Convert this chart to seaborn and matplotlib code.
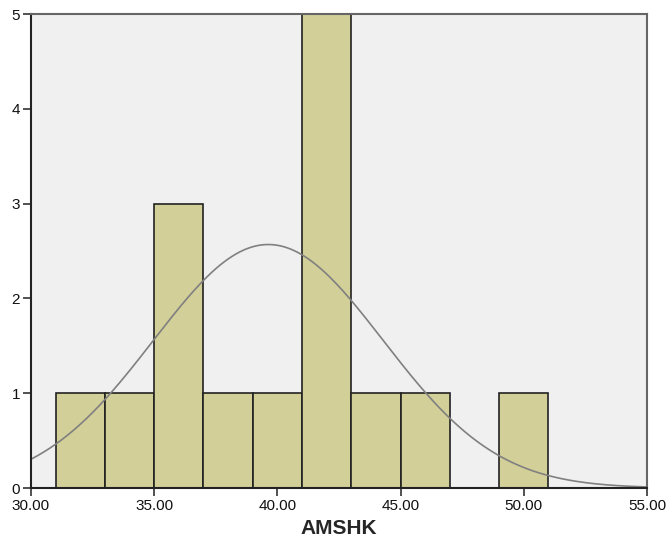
import numpy as np
import pandas as pd
import matplotlib
matplotlib.use("Agg")
import matplotlib.pyplot as plt
import seaborn as sns

# Data
bin_edges = [31, 33, 35, 37, 39, 41, 43, 45, 47, 49, 51]
bin_counts = [1, 1, 3, 1, 1, 5, 1, 1, 0, 1]
fit_mean = 39.63
fit_sd = 4.66
n_total = sum(bin_counts)
bin_width = 2
x_ticks = [30, 35, 40, 45, 50, 55]
x_tick_labels = ["30.00", "35.00", "40.00", "45.00", "50.00", "55.00"]
y_ticks = [0, 1, 2, 3, 4, 5]

sns.set_style("white")
plt.rcParams["font.family"] = ["Liberation Sans", "DejaVu Sans"]

fig = plt.figure(figsize=(6.68, 5.44), dpi=100)
ax = fig.add_axes([31 / 668, 1 - 488 / 544, (647 - 31) / 668, (488 - 14) / 544])
ax.set_facecolor("#F0F0F0")

mids = [(a + b) / 2 for a, b in zip(bin_edges[:-1], bin_edges[1:])]
df = pd.DataFrame({"AMSHK": mids, "count": bin_counts})
sns.histplot(data=df, x="AMSHK", weights="count", bins=bin_edges, ax=ax,
             color="#D3CF98", alpha=1, edgecolor="#222222", linewidth=1.2)

xs = np.linspace(30, 55, 400)
ys = n_total * bin_width / (fit_sd * np.sqrt(2 * np.pi)) * np.exp(-0.5 * ((xs - fit_mean) / fit_sd) ** 2)
sns.lineplot(x=xs, y=ys, ax=ax, color="#808080", linewidth=1.2)

ax.set_xlim(30, 55)
ax.set_ylim(0, 5)
ax.set_xticks(x_ticks)
ax.set_xticklabels(x_tick_labels)
ax.set_yticks(y_ticks)
ax.set_ylabel("")
ax.set_xlabel("AMSHK", fontsize=15, fontweight="bold", labelpad=4)
ax.tick_params(axis="both", which="both", direction="out", length=6, width=1.2,
               color="#333333", labelsize=11, labelcolor="#111111", pad=2,
               bottom=True, left=True)

for side in ["left", "bottom"]:
    ax.spines[side].set_color("#222222")
    ax.spines[side].set_linewidth(1.5)
for side in ["top", "right"]:
    ax.spines[side].set_visible(True)
    ax.spines[side].set_color("#666666")
    ax.spines[side].set_linewidth(1.5)

fig.savefig("out.png", dpi=100, facecolor="white")
